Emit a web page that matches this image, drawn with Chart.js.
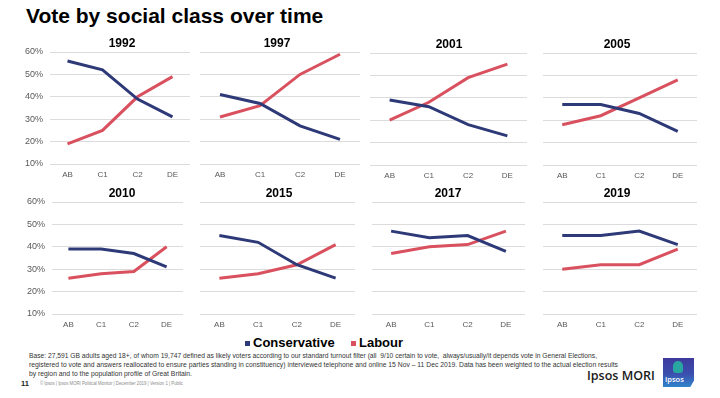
<!DOCTYPE html>
<html>
<head>
<meta charset="utf-8">
<script src="https://cdn.jsdelivr.net/npm/chart.js@4/dist/chart.umd.min.js"></script>
<style>
  html, body { margin:0; padding:0; background:#fff; }
  body { width:720px; height:398px; position:relative; overflow:hidden; font-family:"Liberation Sans", Arial, sans-serif; }
  canvas { position:absolute; }
  .abs { position:absolute; white-space:nowrap; }
  #title { left:26px; top:4px; font-size:21px; font-weight:bold; color:#000; line-height:24px; }
  .leg { top:335px; font-size:13px; font-weight:bold; color:#000; line-height:15px; }
  .sq { position:absolute; width:5px; height:5px; }
  .fn { font-size:6.3px; color:#333; line-height:8px; transform-origin:left top; }
  #logo { left:663px; top:358px; width:31px; height:29px;
          background:linear-gradient(180deg,#3d3a9c 0%,#3b4fae 55%,#2f86cc 100%);
          clip-path:polygon(0 0,100% 0,100% 78%,88% 100%,0 100%); }
</style>
</head>
<body>
<div id="title" class="abs">Vote by social class over time</div>

<div class="sq" style="left:245px;top:341px;background:#2E3A78"></div>
<div class="abs leg" style="left:253px">Conservative</div>
<div class="sq" style="left:351px;top:341px;background:#D9515F"></div>
<div class="abs leg" style="left:359px">Labour</div>

<div id="fn1" class="abs fn" data-w="568" style="left:29px;top:352px">Base: 27,591 GB adults aged 18+, of whom 19,747 defined as likely voters according to our standard turnout filter (all&nbsp; 9/10 certain to vote,&nbsp; always/usually/it depends vote in General Elections,</div>
<div id="fn2" class="abs fn" data-w="589" style="left:29px;top:361px">registered to vote and answers reallocated to ensure parties standing in constituency) interviewed telephone and online 15 Nov – 11 Dec 2019. Data has been weighted to the actual election results</div>
<div id="fn3" class="abs fn" data-w="163" style="left:29px;top:370px">by region and to the population profile of Great Britain.</div>
<div class="abs" style="left:21px;top:379px;font-size:7.5px;font-weight:bold;color:#222;line-height:9px">11</div>
<div id="fn4" class="abs fn" data-w="143" style="left:40px;top:380px;font-size:5px;color:#8a8a8a;line-height:6px">© Ipsos | Ipsos MORI Political Monitor | December 2019 | Version 1 | Public</div>

<div class="abs" style="left:587px;top:368px;font-family:'Open Sans',sans-serif;font-weight:600;font-size:12.5px;color:#1a1a1a;line-height:16px">Ipsos MORI</div>
<div id="logo" class="abs">
  <div style="position:absolute;left:10px;top:3px;width:10px;height:12px;border-radius:5px 5px 3px 3px;background:#2aa6a0"></div>
  <div style="position:absolute;left:2px;top:17px;font-size:7.5px;color:#fff;font-family:'Open Sans',sans-serif;font-weight:600;line-height:9px">Ipsos</div>
</div>

<script>
// ---- data ----
const years = ['1992', '1997', '2001', '2005', '2010', '2015', '2017', '2019'];
const classes = ['AB', 'C1', 'C2', 'DE'];
const conservative = [
  [56, 52, 39, 31],
  [41, 37, 27, 21],
  [39, 36, 28, 23],
  [37, 37, 33, 25],
  [39, 39, 37, 31],
  [45, 42, 32, 26],
  [47, 44, 45, 38],
  [45, 45, 47, 41]
];
const labour = [
  [19, 25, 40, 49],
  [31, 36, 50, 59],
  [30, 38, 49, 55],
  [28, 32, 40, 48],
  [26, 28, 29, 40],
  [26, 28, 32, 41],
  [37, 40, 41, 47],
  [30, 32, 32, 39]
];
const yTickValues = [10, 20, 30, 40, 50, 60];
const yTickLabels = ['10%', '20%', '30%', '40%', '50%', '60%'];

// ---- layout (panel placement) ----
const CON = '#2E3A78', LAB = '#D9515F';
const FONT = '"Liberation Sans", Arial, sans-serif';
const panels = [
  {l:50,  r:190, t:52,  b:164, tx:122, showY:true},
  {l:200, r:360, t:52,  b:164, tx:277, showY:false},
  {l:370, r:527, t:53,  b:165, tx:449, showY:false},
  {l:543, r:697, t:53,  b:165, tx:617, showY:false},
  {l:52,  r:183, t:202, b:314, tx:122, showY:true},
  {l:200, r:355, t:202, b:314, tx:279, showY:false},
  {l:372, r:525, t:202, b:314, tx:448, showY:false},
  {l:543, r:697, t:202, b:314, tx:617, showY:false}
];
const padL = 30, padT = 20, padR = 3, padB = 24;

panels.forEach((p, i) => {
  const cv = document.createElement('canvas');
  const w = (p.r - p.l) + padL + padR;
  const h = (p.b - p.t) + padT + padB;
  cv.width = w; cv.height = h;
  cv.style.left = (p.l - padL) + 'px';
  cv.style.top = (p.t - padT) + 'px';
  cv.style.width = w + 'px'; cv.style.height = h + 'px';
  document.body.appendChild(cv);
  const titleX = p.tx - (p.l - padL);
  const titlePlugin = {
    id: 'panelTitle',
    afterDraw(chart) {
      const c = chart.ctx;
      c.save();
      c.font = 'bold 12px ' + FONT;
      c.fillStyle = '#000';
      c.textAlign = 'center';
      c.textBaseline = 'alphabetic';
      c.fillText(years[i], titleX, chart.chartArea.top - 5);
      c.restore();
    }
  };
  new Chart(cv, {
    type: 'line',
    data: {
      labels: classes,
      datasets: [
        {label: 'Conservative', data: conservative[i], borderColor: CON, backgroundColor: CON,
         borderWidth: 3, pointRadius: 0, tension: 0, fill: false},
        {label: 'Labour', data: labour[i], borderColor: LAB, backgroundColor: LAB,
         borderWidth: 3, pointRadius: 0, tension: 0, fill: false}
      ]
    },
    options: {
      responsive: false, animation: false, devicePixelRatio: 1,
      layout: {padding: {top: padT, right: padR, left: 0, bottom: 0}},
      plugins: {legend: {display: false}, tooltip: {enabled: false}, title: {display: false}},
      scales: {
        x: {
          offset: true,
          grid: {display: false, drawTicks: false},
          border: {display: false},
          ticks: {color: '#595959', font: {size: 8, family: FONT}, padding: 6, maxRotation: 0, autoSkip: false},
          afterFit(s) { s.height = padB; }
        },
        y: {
          min: yTickValues[0], max: yTickValues[yTickValues.length - 1],
          afterBuildTicks(s) { s.ticks = yTickValues.map(v => ({value: v})); },
          ticks: {
            display: p.showY, color: '#595959', font: {size: 9, family: FONT}, padding: 7,
            callback: (v) => yTickLabels[yTickValues.indexOf(v)]
          },
          grid: {color: '#dcdcdc', lineWidth: 1, drawTicks: false},
          border: {display: false},
          afterFit(s) { s.width = padL; }
        }
      }
    },
    plugins: [titlePlugin]
  });
});

// fit footnote lines to their measured widths
document.querySelectorAll('.fn').forEach(el => {
  const target = parseFloat(el.dataset.w);
  const actual = el.getBoundingClientRect().width;
  if (actual > 0) el.style.transform = 'scaleX(' + (target / actual) + ')';
});
</script>
</body>
</html>
